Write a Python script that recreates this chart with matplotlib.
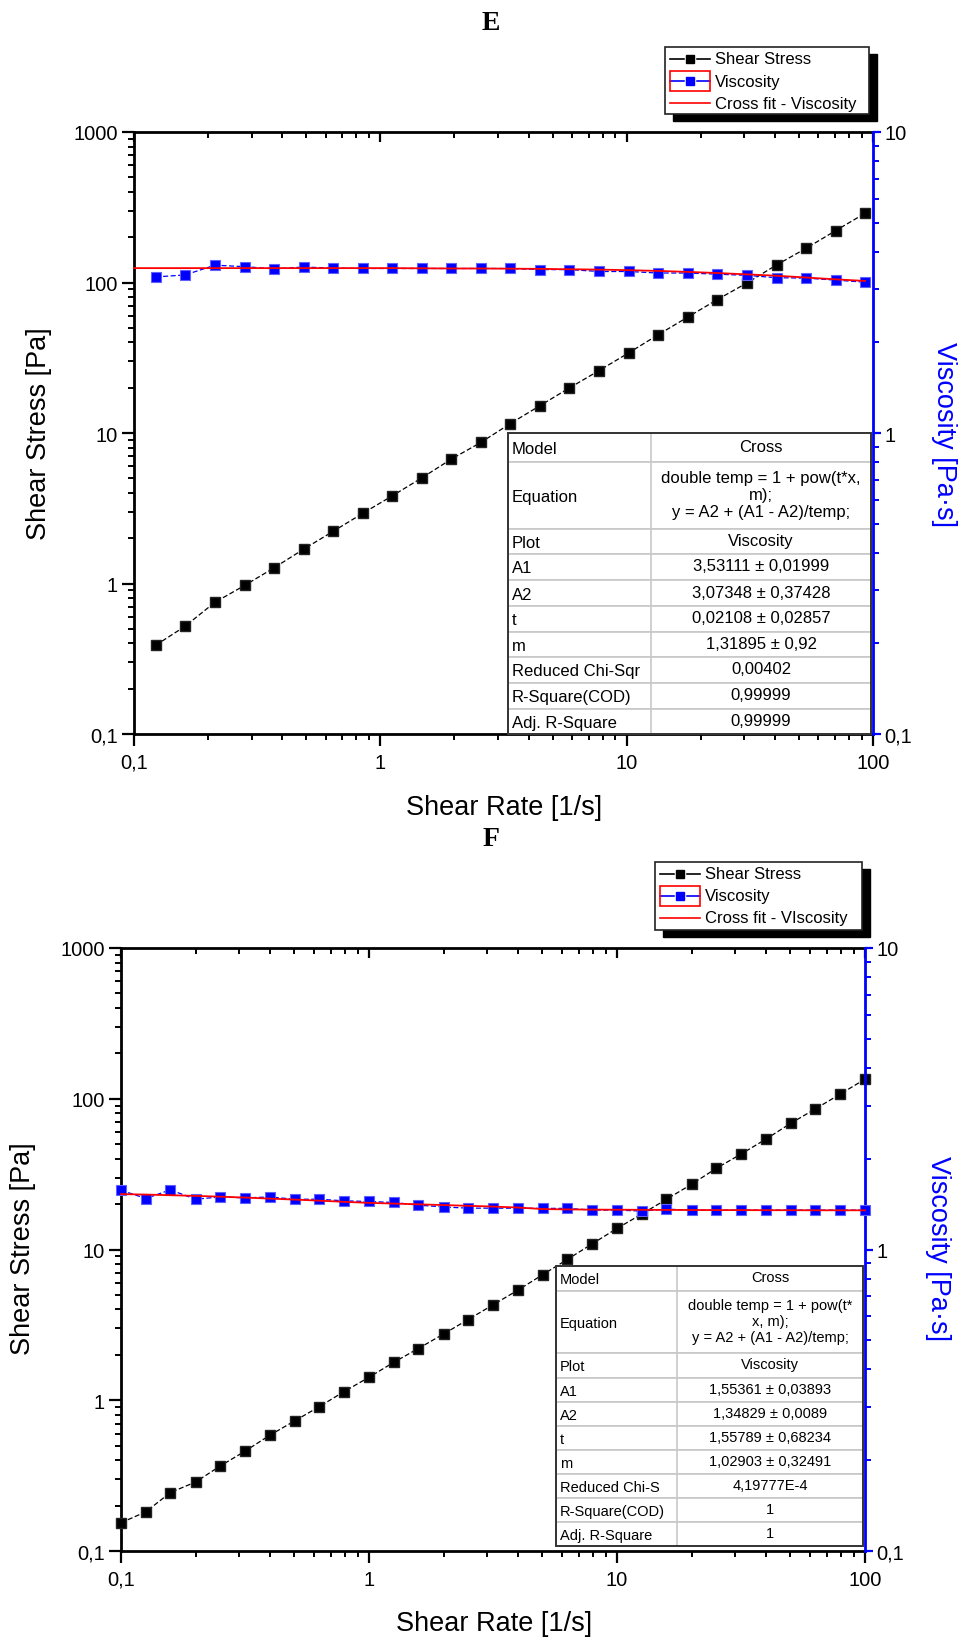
import matplotlib
matplotlib.use('Agg')
import matplotlib.pyplot as plt
from matplotlib.ticker import LogLocator, FuncFormatter, NullFormatter
from matplotlib.lines import Line2D
from matplotlib.patches import Rectangle

plt.rcParams['font.family'] = ['Liberation Sans', 'DejaVu Sans']

# ---- Panel E data ----
rate_e = [0.1225, 0.161, 0.213, 0.281, 0.370, 0.488, 0.643, 0.847, 1.12, 1.47,
          1.94, 2.56, 3.37, 4.45, 5.86, 7.73, 10.2, 13.4, 17.7, 23.3,
          30.8, 40.6, 53.5, 70.5, 92.9]
stress_e = [0.389, 0.519, 0.75, 0.97, 1.27, 1.69, 2.22, 2.92, 3.83, 5.02,
            6.70, 8.66, 11.55, 15.2, 19.95, 26.0, 34.1, 44.9, 58.9, 76.9,
            99.4, 130.8, 168.7, 221, 288.6]
visc_e = [3.30, 3.35, 3.61, 3.57, 3.51, 3.56, 3.53, 3.52, 3.52, 3.52,
          3.52, 3.52, 3.52, 3.49, 3.49, 3.44, 3.44, 3.40, 3.40, 3.37,
          3.34, 3.28, 3.27, 3.22, 3.17]
fit_rate_e = [0.1, 0.1225, 0.161, 0.213, 0.281, 0.370, 0.488, 0.643, 0.847, 1.12,
              1.47, 1.94, 2.56, 3.37, 4.45, 5.86, 7.73, 10.2, 13.4, 17.7,
              23.3, 30.8, 40.6, 53.5, 70.5, 92.9]
fit_visc_e = [3.53, 3.53, 3.53, 3.53, 3.53, 3.53, 3.53, 3.53, 3.53, 3.53,
              3.525, 3.52, 3.52, 3.515, 3.51, 3.50, 3.49, 3.475, 3.455, 3.43,
              3.40, 3.365, 3.33, 3.285, 3.24, 3.20]

# ---- Panel F data ----
rate_f = [0.1, 0.126, 0.158, 0.2, 0.251, 0.316, 0.398, 0.501, 0.631, 0.794,
          1.0, 1.26, 1.58, 2.0, 2.51, 3.16, 3.98, 5.01, 6.31, 7.94,
          10.0, 12.6, 15.8, 20.0, 25.1, 31.6, 39.8, 50.1, 63.1, 79.4, 100.0]
stress_f = [0.154, 0.182, 0.244, 0.287, 0.366, 0.459, 0.586, 0.729, 0.908, 1.142,
            1.421, 1.787, 2.203, 2.754, 3.43, 4.29, 5.37, 6.8, 8.6, 10.9,
            13.8, 17.2, 21.5, 27.1, 34.5, 42.9, 53.9, 68.6, 85.7, 107.3, 134.9]
visc_f = [1.573, 1.476, 1.577, 1.468, 1.494, 1.483, 1.494, 1.468, 1.468, 1.450,
          1.443, 1.432, 1.403, 1.384, 1.371, 1.371, 1.371, 1.369, 1.369, 1.351,
          1.351, 1.341, 1.361, 1.351, 1.351, 1.351, 1.351, 1.351, 1.351, 1.351, 1.351]
fit_visc_f = [1.527, 1.521, 1.514, 1.506, 1.497, 1.487, 1.475, 1.464, 1.452, 1.439,
              1.428, 1.420, 1.412, 1.404, 1.396, 1.388, 1.378, 1.362, 1.358, 1.356,
              1.355, 1.354, 1.353, 1.352, 1.351, 1.351, 1.350, 1.350, 1.349, 1.349, 1.349]

# ---- fit tables ----
row_names_e = ["Model", "Equation", "Plot", "A1", "A2", "t", "m",
               "Reduced Chi-Sqr", "R-Square(COD)", "Adj. R-Square"]
row_vals_e = ["Cross", "double temp = 1 + pow(t*x,\nm);\ny = A2 + (A1 - A2)/temp;",
              "Viscosity", "3,53111 \u00b1 0,01999", "3,07348 \u00b1 0,37428",
              "0,02108 \u00b1 0,02857", "1,31895 \u00b1 0,92", "0,00402",
              "0,99999", "0,99999"]
row_names_f = ["Model", "Equation", "Plot", "A1", "A2", "t", "m",
               "Reduced Chi-S", "R-Square(COD)", "Adj. R-Square"]
row_vals_f = ["Cross", "double temp = 1 + pow(t*\nx, m);\ny = A2 + (A1 - A2)/temp;",
              "Viscosity", "1,55361 \u00b1 0,03893", "1,34829 \u00b1 0,0089",
              "1,55789 \u00b1 0,68234", "1,02903 \u00b1 0,32491", "4,19777E-4",
              "1", "1"]

W, H = 961, 1640
fig = plt.figure(figsize=(W / 100, H / 100), dpi=100)


def fx(x):
    return x / W


def fy(y):
    return 1 - y / H


def comma(v, pos):
    return ('%g' % v).replace('.', ',')


def panel(box, rate, stress, visc, fit_rate, fit_visc):
    l, t, r, b = box
    ax = fig.add_axes([fx(l), fy(b), (r - l) / W, (b - t) / H])
    ax.set_xscale('log')
    ax.set_yscale('log')
    ax.set_xlim(0.1, 100)
    ax.set_ylim(0.1, 1000)
    ax2 = ax.twinx()
    ax2.set_yscale('log')
    ax2.set_ylim(0.1, 10)

    ax.plot(rate, stress, color='black', ls=(0, (4, 2)), lw=0.9, marker='s',
            ms=7.5, mfc='black', mec='#222222', clip_on=False, zorder=3)
    ax2.plot(rate, visc, color='blue', ls=(0, (4, 2)), lw=0.9, marker='s',
             ms=7.5, mfc='blue', mec='#6060ff', mew=0.8, clip_on=False, zorder=3)
    ax2.plot(fit_rate, fit_visc, color='red', lw=1.3, clip_on=False, zorder=4)

    for a in (ax.xaxis, ax.yaxis, ax2.yaxis):
        a.set_major_locator(LogLocator(base=10, numticks=10))
        a.set_minor_locator(LogLocator(base=10, subs=range(2, 10), numticks=100))
        a.set_major_formatter(FuncFormatter(comma))
        a.set_minor_formatter(NullFormatter())

    ax.spines['right'].set_visible(False)
    for s in ('left', 'top', 'bottom'):
        ax.spines[s].set_linewidth(2)
        ax2.spines[s].set_visible(False)
    ax2.spines['right'].set_color('blue')
    ax2.spines['right'].set_linewidth(2)

    ax.tick_params(axis='both', which='major', direction='out', length=8.5,
                   width=1.6, labelsize=14.5, pad=3, top=False, right=False)
    ax.tick_params(axis='x', which='major', pad=5)
    ax.tick_params(axis='both', which='minor', direction='out', length=4.3,
                   width=1.4, top=False, right=False)
    ax2.tick_params(axis='y', which='major', direction='out', length=6,
                    width=1.6, colors='blue', labelcolor='black', labelsize=14.5, pad=2)
    ax2.tick_params(axis='y', which='minor', direction='out', length=4.3,
                    width=1.4, colors='blue')
    # inward ticks along the top edge
    ax2.xaxis.set_visible(True)
    ax2.tick_params(axis='x', which='major', direction='in', length=7, width=1.6,
                    bottom=False, top=True, labelbottom=False, labeltop=False)
    ax2.tick_params(axis='x', which='minor', direction='in', length=4.3, width=1.4,
                    bottom=False, top=True, labelbottom=False, labeltop=False)
    return ax, ax2


def table(x0, xc, x1, rows, names, vals, fs):
    for i in range(len(names)):
        ya, yb = rows[i], rows[i + 1]
        fig.add_artist(Rectangle((fx(x0), fy(yb)), (x1 - x0) / W, (yb - ya) / H,
                                 transform=fig.transFigure, facecolor='white',
                                 edgecolor='#c8c8c8', lw=1.2, zorder=5))
        fig.add_artist(Line2D([fx(xc), fx(xc)], [fy(ya), fy(yb)],
                              transform=fig.transFigure, color='#c8c8c8', lw=1.2, zorder=6))
        ym = (ya + yb) / 2
        fig.text(fx(x0 + 4), fy(ym + 1), names[i], ha='left', va='center',
                 fontsize=fs, zorder=7)
        fig.text(fx((xc + x1) / 2), fy(ym - 1), vals[i], ha='center', va='center',
                 fontsize=fs, linespacing=1.15, zorder=7)
    fig.add_artist(Rectangle((fx(x0), fy(rows[-1])), (x1 - x0) / W,
                             (rows[-1] - rows[0]) / H, transform=fig.transFigure,
                             facecolor='none', edgecolor='#333333', lw=1.4, zorder=8))


def legend(x0, y0, x1, y1, labels):
    fig.add_artist(Rectangle((fx(x0 + 8), fy(y1 + 7)), (x1 - x0) / W, (y1 - y0) / H,
                             transform=fig.transFigure, facecolor='black',
                             edgecolor='black', zorder=5))
    fig.add_artist(Rectangle((fx(x0), fy(y1)), (x1 - x0) / W, (y1 - y0) / H,
                             transform=fig.transFigure, facecolor='white',
                             edgecolor='#222222', lw=1.2, zorder=6))
    rows = [y0 + 12, y0 + 34, y0 + 56]
    hx = [x0 + 5, x0 + 45]
    styles = [('black', 's'), ('blue', 's'), ('red', None)]
    for yy, (c, m), lab in zip(rows, styles, labels):
        fig.add_artist(Line2D([fx(hx[0]), fx(hx[1])], [fy(yy), fy(yy)],
                              transform=fig.transFigure, color=c, lw=1.2, zorder=7))
        if m:
            fig.add_artist(Line2D([fx((hx[0] + hx[1]) / 2)], [fy(yy)], marker=m,
                                  ms=6, color=c, mec='white', mew=2.5,
                                  transform=fig.transFigure, zorder=8))
            fig.add_artist(Line2D([fx((hx[0] + hx[1]) / 2)], [fy(yy)], marker=m,
                                  ms=6, color=c, transform=fig.transFigure, zorder=9))
        fig.text(fx(x0 + 50), fy(yy), lab, ha='left', va='center',
                 fontsize=12, zorder=9)
    # red frame around the viscosity symbol
    fig.add_artist(Rectangle((fx(x0 + 5), fy(rows[1] + 10)), 40 / W, 20 / H,
                             transform=fig.transFigure, facecolor='none',
                             edgecolor='red', lw=1.2, zorder=9))


# ---- Panel E ----
panel((134, 133, 873, 735), rate_e, stress_e, visc_e, fit_rate_e, fit_visc_e)
fig.text(fx(491), fy(23), 'E', ha='center', va='center', fontsize=20,
         family='Liberation Serif', weight='bold')
fig.text(fx(504), fy(808), 'Shear Rate [1/s]', ha='center', va='center', fontsize=19.5)
fig.text(fx(39), fy(434), 'Shear Stress [Pa]', ha='center', va='center',
         rotation=90, fontsize=19.5)
fig.text(fx(944), fy(434), 'Viscosity [Pa\u00b7s]', ha='center', va='center',
         rotation=270, fontsize=19.5, color='blue')
legend(665, 48, 869, 115, ['Shear Stress', 'Viscosity', 'Cross fit - Viscosity'])
table(508, 651, 871,
      [434, 463, 530, 555, 581, 607, 633, 658, 684, 710, 735],
      row_names_e, row_vals_e, 12)

# ---- Panel F ----
panel((121, 949, 865, 1552), rate_f, stress_f, visc_f, rate_f, fit_visc_f)
fig.text(fx(491), fy(840), 'F', ha='center', va='center', fontsize=20,
         family='Liberation Serif', weight='bold')
fig.text(fx(494), fy(1624), 'Shear Rate [1/s]', ha='center', va='center', fontsize=19.5)
fig.text(fx(23), fy(1249), 'Shear Stress [Pa]', ha='center', va='center',
         rotation=90, fontsize=19.5)
fig.text(fx(938), fy(1249), 'Viscosity [Pa\u00b7s]', ha='center', va='center',
         rotation=270, fontsize=19.5, color='blue')
legend(655, 863, 862, 931, ['Shear Stress', 'Viscosity', 'Cross fit - VIscosity'])
table(556, 677, 863,
      [1267, 1292, 1354, 1379, 1403, 1427, 1451, 1475, 1499, 1523, 1547],
      row_names_f, row_vals_f, 10.5)

fig.savefig('out.png', dpi=100)
